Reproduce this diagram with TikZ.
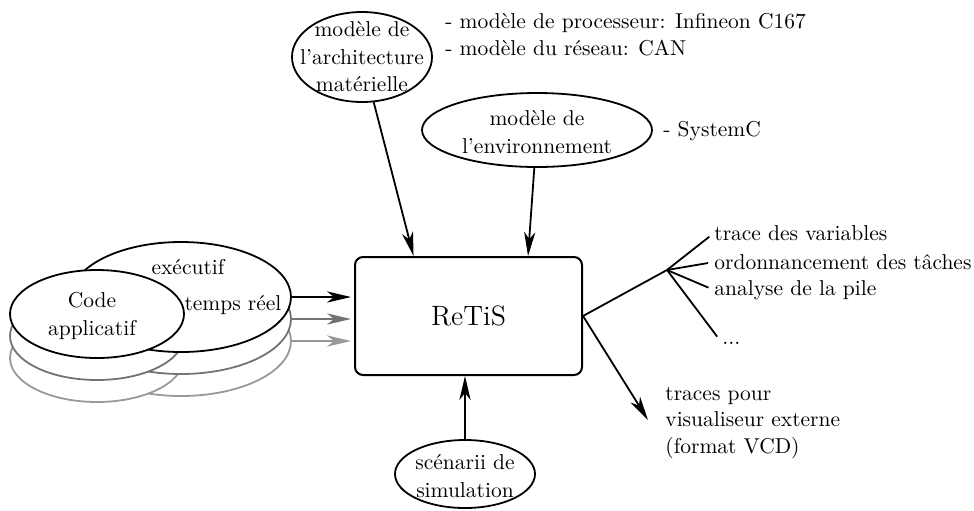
\documentclass[tikz,border=0pt]{standalone}
\usetikzlibrary{shapes.geometric,arrows.meta,calc}
\definecolor{layB}{gray}{0.45}
\definecolor{layC}{gray}{0.6}
\begin{document}
\begin{tikzpicture}[x=0.5pt,y=-0.5pt,
  txt/.style={font=\fontsize{10.75}{13.75}\selectfont, inner sep=0pt, align=center},
  bubble/.style={ellipse, draw, line width=0.9pt, fill=white, inner sep=0pt},
  link/.style={line width=0.9pt},
  flow/.style={line width=0.9pt, -{Stealth[length=12pt,width=5.6pt,inset=3.5pt]}},
]
\useasboundingbox (0,0) rectangle (974,510);

% central simulator block
\node[draw, rounded corners=4pt, line width=1pt, minimum width=113.5pt,
      minimum height=59pt, font=\fontsize{14}{17}\selectfont] (box) at (468.5,316) {ReTiS};

% stacked application / executive layers (back to front)
\foreach \k/\c in {2/layC,1/layB,0/black}{
  \node[bubble, draw=\c, minimum width=110pt, minimum height=55pt] (exec\k) at (181,{297+22*\k}) {};
  \node[bubble, draw=\c, minimum width=87pt, minimum height=44pt] (code\k) at (97,{314+22*\k}) {};
  \draw[flow, draw=\c, fill=\c, shorten >=1.5pt] (exec\k.east) -- (exec\k.east -| box.west);
}
\node[txt] (exectxt) at (188,267) {exécutif};
\node[txt] (rttxt) at (233,305) {temps réel};
\node[txt] (codetxt) at (92,316) {Code\\applicatif};

% hardware architecture model
\node[bubble, minimum width=70pt, minimum height=45pt] (arch) at (362,57) {};
\node[txt] (archtxt) at (362,57) {modèle de\\l'architecture\\matérielle};
\node[txt, anchor=west] (hw1) at (445,23) {- modèle de processeur: Infineon C167};
\node[txt, anchor=west] (hw2) at (445,48) {- modèle du réseau: CAN};

% environment model
\node[bubble, minimum width=115pt, minimum height=37pt] (env) at (537,130) {};
\node[txt] (envtxt) at (537,132) {modèle de\\l'environnement};
\node[txt, anchor=west] (sysc) at (663,131) {- SystemC};

\draw[flow] (arch) -- ($(box.north west)!0.26!(box.north east)$);
\draw[flow] (env) -- ($(box.north west)!0.76!(box.north east)$);

% simulation scenarios
\node[bubble, minimum width=70pt, minimum height=34pt] (scen) at (465,474) {};
\node[txt] (scentxt) at (465,476) {scénarii de\\simulation};
\draw[flow] (scen.north) -- (scen.north |- box.south);

% outputs
\coordinate (fork) at (667,270);
\draw[link] (box.east) -- (fork);
\node[txt, anchor=west] (o1) at (714,233) {trace des variables};
\node[txt, anchor=west] (o2) at (714,262) {ordonnancement des tâches};
\node[txt, anchor=west] (o3) at (714,290) {analyse de la pile};
\node[txt, anchor=west] (o4) at (722,343) {...};
\draw[link, shorten >=3pt] (fork) -- (o1.west);
\draw[link, shorten >=3pt] (fork) -- (o2.west);
\draw[link, shorten >=3pt] (fork) -- (o3.west);
\draw[link, shorten >=4pt] (fork) -- (o4.west);

\node[txt, align=left, anchor=west, font=\fontsize{10.75}{13.25}\selectfont] (vcd) at (665,423)
  {traces pour\\visualiseur externe\\(format VCD)};
\coordinate (vcdtip) at (648,420);
\draw[flow] (box.east) -- (vcdtip);
\end{tikzpicture}
\end{document}
